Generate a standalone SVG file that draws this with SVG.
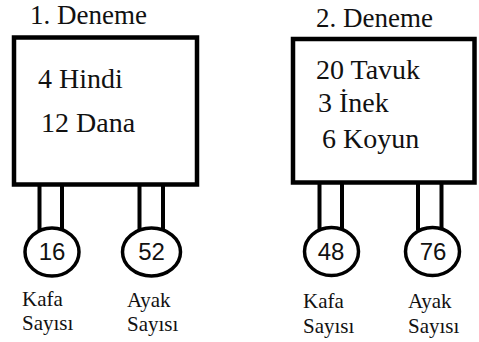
<svg xmlns="http://www.w3.org/2000/svg" width="479" height="342" viewBox="0 0 479 342">
<style>
.box{fill:#fff;stroke:#000;stroke-width:4.5}
.stem{stroke:#000;stroke-width:4;fill:none}
.disc{fill:#fff;stroke:#000;stroke-width:3.5}
.t{font-family:'Liberation Serif','DejaVu Serif',serif;fill:#111}
.big{font-size:28px}
.ttl{font-size:27px}
.lbl{font-size:21px}
.num{font-family:'Liberation Sans','DejaVu Sans',sans-serif;font-size:24px;fill:#111;text-anchor:middle}
</style>
<rect width="479" height="342" fill="#fff"/>
<g id="connectors">
<line class="stem" x1="39.5" y1="185" x2="39.5" y2="230"/>
<line class="stem" x1="62" y1="185" x2="62" y2="230"/>
<line class="stem" x1="139.5" y1="185" x2="139.5" y2="230"/>
<line class="stem" x1="163" y1="185" x2="163" y2="230"/>
<line class="stem" x1="319.5" y1="182" x2="319.5" y2="230"/>
<line class="stem" x1="342" y1="182" x2="342" y2="230"/>
<line class="stem" x1="418" y1="182" x2="418" y2="230"/>
<line class="stem" x1="441.5" y1="182" x2="441.5" y2="230"/>
</g>
<g id="deneme1">
<text class="t ttl" x="30" y="24">1. Deneme</text>
<rect class="box" x="14" y="37.5" width="183" height="147"/>
<text class="t big" x="38" y="88">4 Hindi</text>
<text class="t big" x="41" y="132">12 Dana</text>
</g>
<g id="deneme2">
<text class="t ttl" x="316" y="26.5">2. Deneme</text>
<rect class="box" x="293" y="39" width="181.5" height="143.5"/>
<text class="t big" x="316" y="78.5">20 Tavuk</text>
<text class="t big" x="318" y="112">3 İnek</text>
<text class="t big" x="322" y="148">6 Koyun</text>
</g>
<g id="kafa1">
<ellipse class="disc" cx="52" cy="252" rx="27" ry="24"/>
<text class="num" x="52" y="260">16</text>
<text class="t lbl" x="22" y="306">Kafa</text>
<text class="t lbl" x="22" y="330">Sayısı</text>
</g>
<g id="ayak1">
<ellipse class="disc" cx="151.5" cy="252" rx="29" ry="24"/>
<text class="num" x="151.5" y="260">52</text>
<text class="t lbl" x="127" y="306.5">Ayak</text>
<text class="t lbl" x="127" y="330.5">Sayısı</text>
</g>
<g id="kafa2">
<ellipse class="disc" cx="331.5" cy="251.5" rx="27" ry="24"/>
<text class="num" x="331" y="259.5">48</text>
<text class="t lbl" x="303" y="308">Kafa</text>
<text class="t lbl" x="303" y="333">Sayısı</text>
</g>
<g id="ayak2">
<ellipse class="disc" cx="432.5" cy="251.5" rx="27" ry="24"/>
<text class="num" x="433" y="259.5">76</text>
<text class="t lbl" x="408" y="308">Ayak</text>
<text class="t lbl" x="408" y="333">Sayısı</text>
</g>
</svg>
